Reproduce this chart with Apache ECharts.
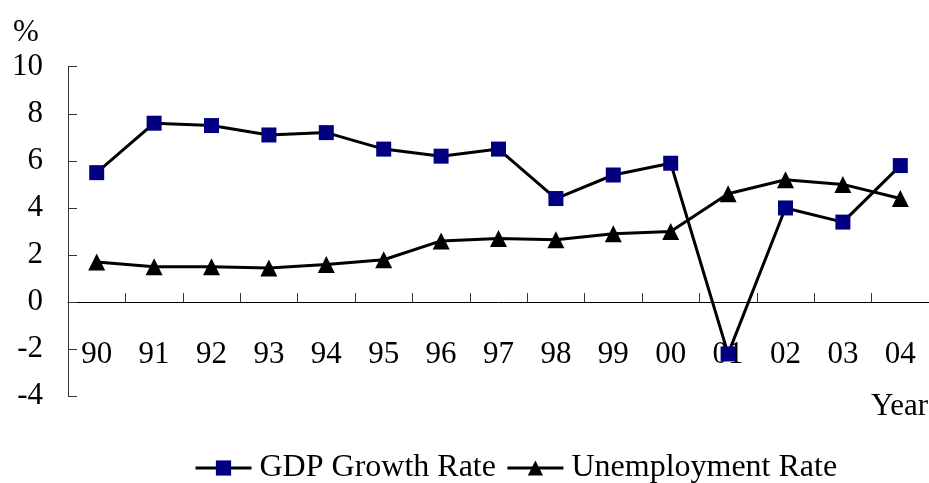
<!DOCTYPE html>
<html>
<head>
<meta charset="utf-8">
<script src="https://cdn.jsdelivr.net/npm/echarts@6/dist/echarts.min.js"></script>
<style>
html, body { margin: 0; padding: 0; background: #fff; }
#lineId { width: 929px; height: 483px; }
</style>
</head>
<body>
<div id="lineId"></div>
<script>
var years = ['90', '91', '92', '93', '94', '95', '96', '97', '98', '99', '00', '01', '02', '03', '04'];
var gdpData = [5.5, 7.6, 7.5, 7.1, 7.2, 6.5, 6.2, 6.5, 4.4, 5.4, 5.9, -2.2, 4.0, 3.4, 5.8];
var unempData = [1.7, 1.5, 1.5, 1.45, 1.6, 1.8, 2.6, 2.7, 2.65, 2.9, 3.0, 4.6, 5.2, 5.0, 4.4];
var yTicks = [-4, -2, 0, 2, 4, 6, 8, 10];

var fontName = 'Liberation Serif';
var gridTop = 66.7;
var gridBottom = 86.7;
var lineChart = echarts.init(document.getElementById('lineId'));

// x轴放在0刻度处：grid 底部到 0 的像素距离
var plotH = 483 - gridTop - gridBottom;
var zeroOffset = plotH * (0 - yTicks[0]) / (yTicks[yTicks.length - 1] - yTicks[0]);

var lineoption = {
	animation : false,
	backgroundColor : '#fff',
	title : [ {
		text : '%',
		left : 8,
		top : 12,
		textStyle : {
			fontFamily : fontName,
			fontSize : 31,
			fontWeight : 'normal',
			color : '#000'
		}
	}, {
		text : 'Year',
		left : 866,
		top : 386,
		textStyle : {
			fontFamily : fontName,
			fontSize : 31,
			fontWeight : 'normal',
			color : '#000'
		}
	} ],
	legend : {
		left : 189,
		top : 447,
		itemWidth : 56,
		itemHeight : 19,
		itemGap : 10,
		lineStyle : {
			width : 3,
			color : '#000'
		},
		textStyle : {
			fontFamily : fontName,
			fontSize : 32,
			color : '#000',
			padding : [ 0, 0, 0, 3 ]
		},
		data : [ 'GDP Growth Rate', 'Unemployment Rate' ]
	},
	grid : {
		left : 68,
		right : -5,
		top : gridTop,
		bottom : gridBottom,
		containLabel : false
	},
	xAxis : {
		type : 'category',
		boundaryGap : true,
		data : years,
		offset : -zeroOffset,
		axisLine : {
			show : true,
			onZero : false,
			lineStyle : {
				color : '#000',
				width : 1
			}
		},
		axisTick : {
			show : true,
			interval : 0,
			inside : true,
			length : 9,
			lineStyle : {
				color : '#333',
				width : 1
			}
		},
		axisLabel : {
			margin : 37,
			fontFamily : fontName,
			fontSize : 31,
			color : '#000'
		},
		splitLine : {
			show : false
		}
	},
	yAxis : {
		type : 'value',
		min : yTicks[0],
		max : yTicks[yTicks.length - 1],
		interval : 2,
		axisLine : {
			show : true,
			lineStyle : {
				color : '#333',
				width : 1
			}
		},
		axisTick : {
			show : true,
			inside : true,
			length : 9,
			lineStyle : {
				color : '#333'
			}
		},
		axisLabel : {
			margin : 25,
			fontFamily : fontName,
			fontSize : 31,
			color : '#000'
		},
		splitLine : {
			show : false
		}
	},
	series : [ {
		name : 'GDP Growth Rate',
		type : 'line',
		data : gdpData,
		symbol : 'rect',
		symbolSize : 15,
		itemStyle : {
			color : '#000080'
		},
		lineStyle : {
			color : '#000',
			width : 3
		},
		z : 3
	}, {
		name : 'Unemployment Rate',
		type : 'line',
		data : unempData,
		symbol : 'triangle',
		symbolSize : 17,
		itemStyle : {
			color : '#000'
		},
		lineStyle : {
			color : '#000',
			width : 3
		},
		z : 2
	} ]
};
lineChart.setOption(lineoption);
</script>
</body>
</html>
